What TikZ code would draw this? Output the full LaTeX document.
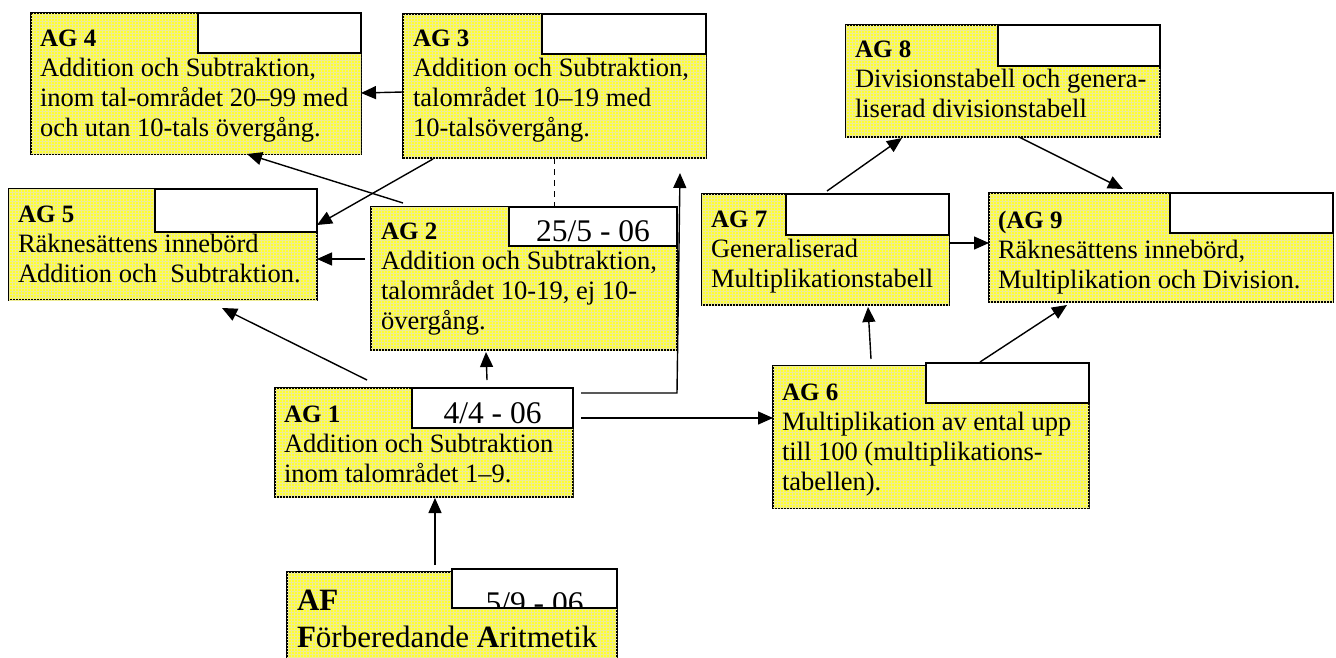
\documentclass[tikz,border=0pt]{standalone}
\usepackage{fontspec}
\setmainfont{Liberation Serif}
\usetikzlibrary{arrows.meta,patterns}

\definecolor{boxyellow}{RGB}{255,255,45}
\definecolor{gridtint}{RGB}{238,236,150}

\tikzset{
  ybox/.style={draw=black, line width=1.7pt, fill=boxyellow,
    postaction={pattern=grid, pattern color=gridtint},
    anchor=north west, inner sep=0pt, outer sep=0pt},
  dbox/.style={draw=black, line width=1.7pt, fill=white,
    anchor=north east, inner sep=0pt, outer sep=0pt},
  body/.style={anchor=base west, inner sep=0pt, outer sep=0pt,
    font=\fontsize{26.5}{30}\selectfont},
  bigbody/.style={anchor=base west, inner sep=0pt, outer sep=0pt,
    font=\fontsize{31}{37}\selectfont},
  datetext/.style={anchor=base, inner sep=0pt, outer sep=0pt,
    font=\fontsize{31.5}{36}\selectfont},
  link/.style={line width=1.4pt, -{Triangle[length=15pt,width=13pt]}},
  dashedlink/.style={line width=1.3pt, dash pattern=on 6pt off 5pt},
}
\newcommand{\aglabel}[1]{{\fontsize{25}{30}\selectfont\bfseries #1}}
\newcommand{\boxlines}[1]{\begin{tabular}[t]{@{}l@{}}#1\end{tabular}}

\begin{document}
\begin{tikzpicture}[x=1pt,y=-1pt]
\useasboundingbox (0,0) rectangle (1336,657);
\clip (0,0) rectangle (1336,657);

% ---- boxes ----
\node[ybox, minimum width=330pt, minimum height=141pt] (ag4) at (31,13) {};
\node[dbox, minimum width=163pt, minimum height=40pt] (ag4d) at (ag4.north east) {};

\node[ybox, minimum width=303pt, minimum height=144pt] (ag3) at (403,14) {};
\node[dbox, minimum width=164pt, minimum height=40pt] (ag3d) at (ag3.north east) {};

\node[ybox, minimum width=308pt, minimum height=111pt] (ag5) at (9,189) {};
\node[dbox, minimum width=162pt, minimum height=43pt] (ag5d) at (ag5.north east) {};

\node[ybox, minimum width=306pt, minimum height=143pt] (ag2) at (371,207) {};
\node[dbox, minimum width=168pt, minimum height=39pt] (ag2d) at (ag2.north east) {};

\node[ybox, minimum width=298pt, minimum height=109pt] (ag1) at (275,388) {};
\node[dbox, minimum width=161pt, minimum height=40pt] (ag1d) at (ag1.north east) {};

\node[ybox, minimum width=330pt, minimum height=110pt] (af) at (287,572) {};
\node[dbox, minimum width=165pt, minimum height=39pt] (afd) at ([yshift=3pt]af.north east) {};

\node[ybox, minimum width=314pt, minimum height=112pt] (ag8) at (846,25) {};
\node[dbox, minimum width=162pt, minimum height=41pt] (ag8d) at (ag8.north east) {};

\node[ybox, minimum width=247pt, minimum height=111pt] (ag7) at (702,194) {};
\node[dbox, minimum width=163pt, minimum height=41pt] (ag7d) at (ag7.north east) {};

\node[ybox, minimum width=344pt, minimum height=109pt] (ag9) at (989,193) {};
\node[dbox, minimum width=163pt, minimum height=40pt] (ag9d) at (ag9.north east) {};

\node[ybox, minimum width=316pt, minimum height=142pt] (ag6) at (773,366) {};
\node[dbox, minimum width=163pt, minimum height=40pt] (ag6d) at ([yshift=3pt]ag6.north east) {};

% ---- box texts ----
\node[body] (ag4t) at ([xshift=9pt,yshift=-33pt]ag4.north west)
  {\boxlines{\aglabel{AG 4}\\ Addition och Subtraktion,\\ inom tal-området 20–99 med\\ och utan 10-tals övergång.}};
\node[body] (ag3t) at ([xshift=10pt,yshift=-32pt]ag3.north west)
  {\boxlines{\aglabel{AG 3}\\ Addition och Subtraktion,\\ talområdet 10–19 med\\ 10-talsövergång.}};
\node[body] (ag5t) at ([xshift=9pt,yshift=-33pt]ag5.north west)
  {\boxlines{\aglabel{AG 5}\\ Räknesättens innebörd\\ Addition och\ \ Subtraktion.}};
\node[body] (ag2t) at ([xshift=10pt,yshift=-32pt]ag2.north west)
  {\boxlines{\aglabel{AG 2}\\ Addition och Subtraktion,\\ talområdet 10-19, ej 10-\\ övergång.}};
\node[body] (ag1t) at ([xshift=9pt,yshift=-34pt]ag1.north west)
  {\boxlines{\aglabel{AG 1}\\ Addition och Subtraktion\\ inom talområdet 1–9.}};
\node[bigbody] (aft) at ([xshift=10pt,yshift=-38pt]af.north west)
  {\boxlines{\textbf{AF}\\ \textbf{F}örberedande \textbf{A}ritmetik}};
\node[body] (ag8t) at ([xshift=9pt,yshift=-32pt]ag8.north west)
  {\boxlines{\aglabel{AG 8}\\ Divisionstabell och genera-\\ liserad divisionstabell}};
\node[body] (ag7t) at ([xshift=9pt,yshift=-33pt]ag7.north west)
  {\boxlines{\aglabel{AG 7}\\ Generaliserad\\ Multiplikationstabell}};
\node[body] (ag9t) at ([xshift=9pt,yshift=-35pt]ag9.north west)
  {\boxlines{\aglabel{(AG 9}\\ Räknesättens innebörd,\\ Multiplikation och Division.}};
\node[body] (ag6t) at ([xshift=9pt,yshift=-34pt]ag6.north west)
  {\boxlines{\aglabel{AG 6}\\ Multiplikation av ental upp\\ till 100 (multiplikations-\\ tabellen).}};

% ---- dates ----
\node[datetext] (ag2dt) at ([yshift=5pt]ag2d.south) {25/5 - 06};
\node[datetext] (ag1dt) at ([yshift=5pt]ag1d.south) {4/4 - 06};
\begin{scope}
  \clip (afd.north west) rectangle (afd.south east);
  \node[datetext] (afdt) at ([yshift=-5pt]afd.south) {5/9 - 06};
\end{scope}

% ---- connectors ----
\draw[link] ([yshift=-6pt]ag3.west) -- ([yshift=-9.5pt]ag4.east);
\draw[link] ([xshift=32pt,yshift=4pt]ag2.north west) -- ([xshift=216pt]ag4.south west);
\draw[link] ([xshift=30pt,yshift=-1pt]ag3.south west) -- ([yshift=19.5pt]ag5.east);
\draw[link] ([xshift=-6pt,yshift=19.5pt]ag2.west) -- ([yshift=-14.5pt]ag5.east);
\draw[link] ([xshift=92pt,yshift=8pt]ag1.north west) -- ([xshift=213pt,yshift=-8pt]ag5.south west);
\draw[link] ([xshift=212pt,yshift=8pt]ag1.north west) -- ([xshift=115pt,yshift=-2pt]ag2.south west);
\coordinate (k1) at ([xshift=8pt,yshift=-5pt]ag1.north east);
\draw[link] (k1) -- (k1 -| ag2.east) -- ([xshift=125.5pt,yshift=-15pt]ag3.south);
\draw[link] ([xshift=8pt,yshift=-30pt]ag1.north east) -- ([yshift=19pt]ag6.west);
\draw[link] ([xshift=98pt,yshift=7pt]ag6.north west) -- ([xshift=166pt,yshift=-2pt]ag7.south west);
\draw[link] ([xshift=125pt,yshift=3pt]ag7.north west) -- ([xshift=56pt,yshift=-1pt]ag8.south west);
\draw[link] ([xshift=173pt]ag8.south west) -- ([xshift=134pt,yshift=4pt]ag9.north west);
\draw[link] ([yshift=6.5pt]ag7.east) -- ([yshift=4.5pt]ag9.west);
\draw[link] ([xshift=54pt,yshift=1pt]ag6d.north west) -- ([xshift=78pt,yshift=-3pt]ag9.south west);
\draw[link] ([xshift=148pt,yshift=7pt]af.north west) -- ([xshift=160pt,yshift=-1pt]ag1.south west);
\draw[dashedlink] (ag3.south) -- (ag3.south |- ag2.north);
\end{tikzpicture}
\end{document}
